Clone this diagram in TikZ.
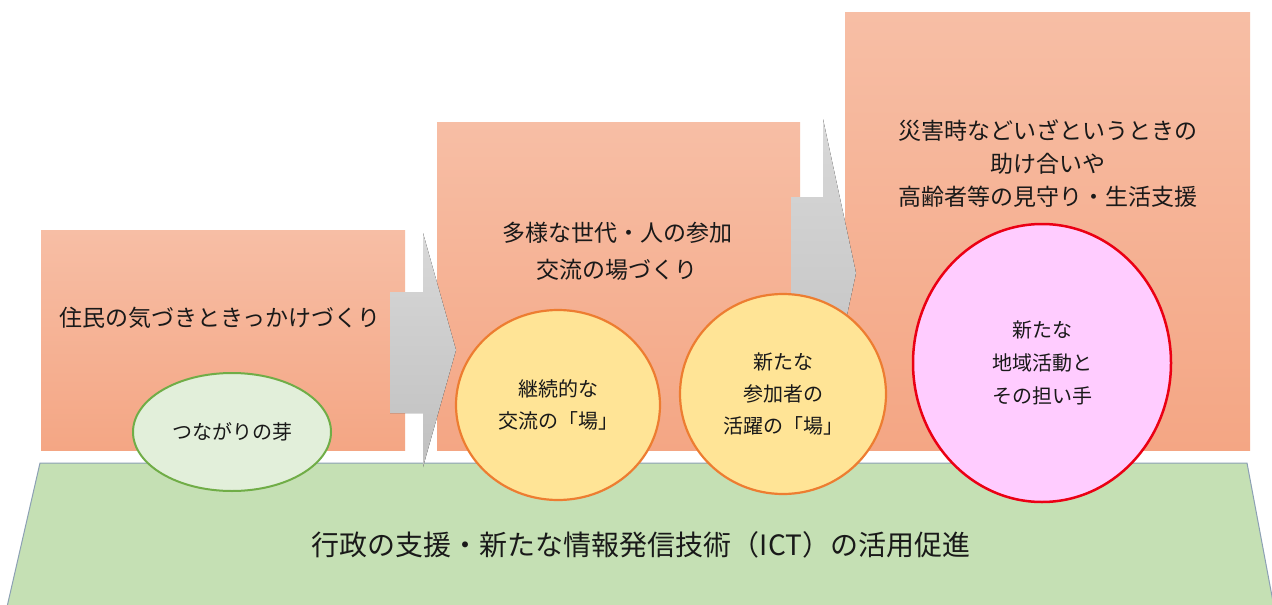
\documentclass[tikz,border=0pt]{standalone}
\usepackage{fontspec}
\setmainfont{Noto Sans CJK JP}
\usetikzlibrary{shapes.geometric}
\definecolor{salTop}{RGB}{247,190,165}
\definecolor{salBot}{RGB}{244,166,132}
\definecolor{arrTop}{RGB}{216,216,216}
\definecolor{arrBot}{RGB}{192,192,192}
\definecolor{yelFill}{RGB}{255,228,150}
\definecolor{orgLine}{RGB}{237,125,49}
\definecolor{pinkFill}{RGB}{255,204,255}
\definecolor{redLine}{RGB}{235,0,20}
\definecolor{grnFill}{RGB}{197,224,180}
\definecolor{grnLine}{RGB}{140,160,180}
\definecolor{sproutFill}{RGB}{226,239,218}
\definecolor{sproutLine}{RGB}{112,173,71}
\definecolor{ink}{RGB}{25,25,25}
\begin{document}
\begin{tikzpicture}[x=1pt,y=-1pt,
  stage/.style={rectangle, draw=none, top color=salTop, bottom color=salBot, inner sep=0, anchor=north west},
  flow/.style={top color=arrTop, bottom color=arrBot, draw=none},
  stagetext/.style={text=ink, align=center, font=\fontsize{23}{35}\selectfont},
  place/.style={ellipse, draw=orgLine, line width=2.2pt, fill=yelFill, inner sep=0, text=ink, align=center, font=\fontsize{20}{32}\selectfont},
  sprout/.style={ellipse, draw=sproutLine, line width=2pt, fill=sproutFill, inner sep=0, text=ink, align=center, font=\fontsize{20}{30}\selectfont},
  goal/.style={ellipse, draw=redLine, line width=2.5pt, fill=pinkFill, inner sep=0, text=ink, align=center, font=\fontsize{20}{33}\selectfont},
  base/.style={fill=grnFill, draw=grnLine, line width=1pt}
]
\useasboundingbox (0,0) rectangle (1272,605);
\fill[white] (0,0) rectangle (1272,605);

% stages
\node[stage, minimum width=364, minimum height=220] (r1) at (41,230) {};
\node[stage, minimum width=363, minimum height=328] (r2) at (437,122) {};
\node[stage, minimum width=405, minimum height=438] (r3) at (845,12) {};

% base
\draw[base] (40,463) -- (1247,463) -- (1274,607) -- (7,607) -- cycle;
\node[text=ink, font=\fontsize{28}{34}\selectfont] (basetext) at (641,545) {行政の支援・新たな情報発信技術（ICT）の活用促進};

% arrows
\fill[flow] (390,292) -- (423,292) -- (423,233) -- (456,350) -- (423,467) -- (423,413) -- (390,413) -- cycle;
\fill[flow] (791,197) -- (823,197) -- (823,119) -- (856,273) -- (823,427) -- (823,349) -- (791,349) -- cycle;

% stage texts
\node[stagetext] (t1) at (220,318) {住民の気づきときっかけづくり};
\node[stagetext, font=\fontsize{23}{37}\selectfont] (t2) at (617,251) {多様な世代・人の参加\\交流の場づくり};
\node[stagetext, font=\fontsize{23}{33}\selectfont] (t3) at (1048,164) {災害時などいざというときの\\助け合いや\\高齢者等の見守り・生活支援};

% circles
\node[sprout, minimum width=198, minimum height=118] (e0) at (232,432) {つながりの芽};
\node[place, minimum width=204, minimum height=190] (c1) at (558,405) {継続的な\\交流の「場」};
\node[place, minimum width=206, minimum height=200] (c2) at (783,394) {新たな\\参加者の\\活躍の「場」};
\node[goal, minimum width=258, minimum height=278] (c3) at (1042,363) {新たな\\地域活動と\\その担い手};
\end{tikzpicture}
\end{document}
